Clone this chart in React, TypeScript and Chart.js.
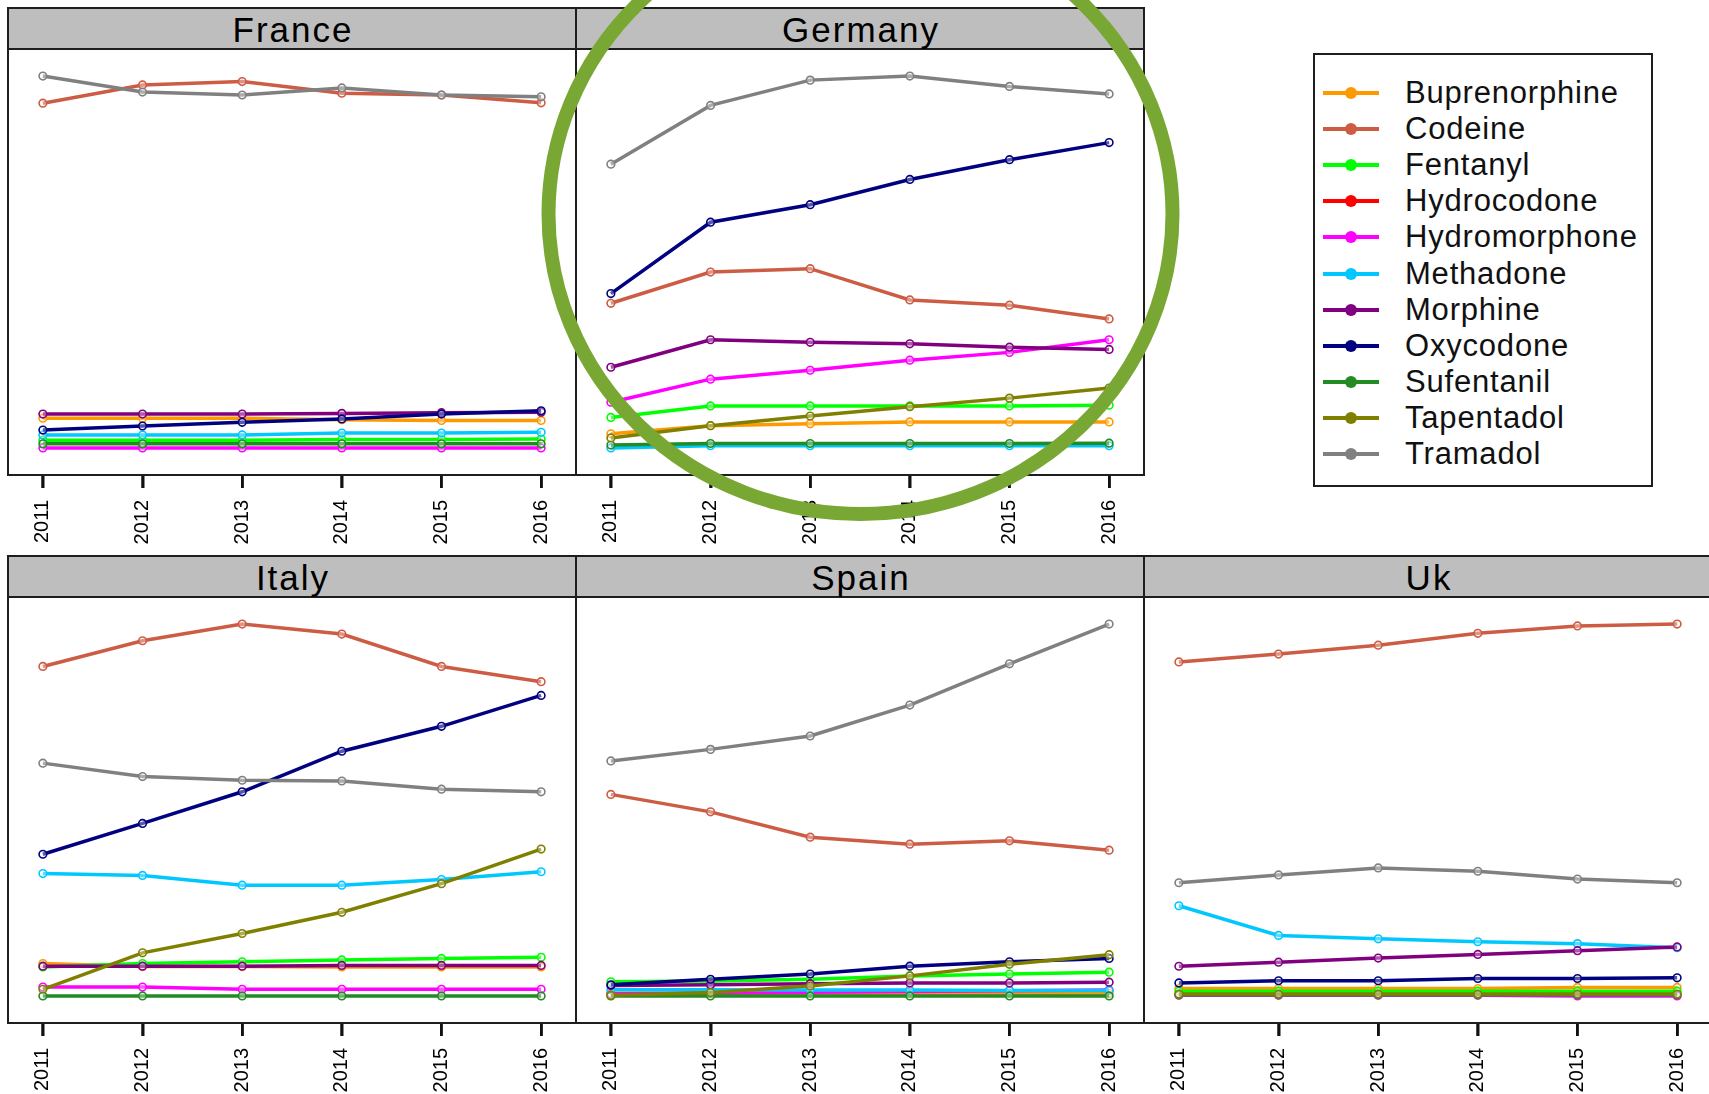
import React, { useEffect, useRef } from "react";
import { Chart, registerables } from "chart.js";

Chart.register(...registerables);

// ---------- data ----------
const years = [2011, 2012, 2013, 2014, 2015, 2016];
const yearTickLabels = ["2011", "2012", "2013", "2014", "2015", "2016"];

const drugs = [
  "Buprenorphine",
  "Codeine",
  "Fentanyl",
  "Hydrocodone",
  "Hydromorphone",
  "Methadone",
  "Morphine",
  "Oxycodone",
  "Sufentanil",
  "Tapentadol",
  "Tramadol",
];

const drugColors = [
  "#FF9900",
  "#CD5C45",
  "#00FF00",
  "#FF0000",
  "#FF00FF",
  "#00C8FF",
  "#800080",
  "#000080",
  "#228B22",
  "#808000",
  "#808080",
];

const countries = ["France", "Germany", "Italy", "Spain", "Uk"];

// relative consumption per panel (free y scale), rows follow `drugs`
const franceValues: (number | null)[][] = [
  [8.0, 8.0, 8.0, 7.6, 7.4, 7.4],
  [92.7, 97.6, 98.5, 95.4, 94.9, 92.8],
  [2.1, 2.1, 2.1, 2.3, 2.3, 2.4],
  [null, null, null, null, null, null],
  [0, 0, 0, 0, 0, 0],
  [3.5, 3.5, 3.5, 4.0, 4.0, 4.2],
  [9.1, 9.1, 9.1, 9.3, 9.5, 9.6],
  [4.8, 5.9, 6.9, 7.8, 9.1, 10.0],
  [1.1, 1.1, 1.1, 1.1, 1.1, 1.1],
  [null, null, null, null, null, null],
  [100, 95.7, 94.9, 96.8, 94.9, 94.4],
];

const germanyValues: (number | null)[][] = [
  [3.8, 6.0, 6.5, 7.0, 7.0, 7.0],
  [38.9, 47.3, 48.2, 39.8, 38.4, 34.7],
  [8.2, 11.3, 11.3, 11.3, 11.3, 11.5],
  [null, null, null, null, null, null],
  [12.3, 18.5, 20.9, 23.6, 25.7, 29.1],
  [0, 0.6, 0.6, 0.6, 0.6, 0.6],
  [21.7, 29.1, 28.4, 28.0, 27.1, 26.5],
  [41.5, 60.7, 65.4, 72.2, 77.5, 82.1],
  [0.8, 1.2, 1.2, 1.2, 1.2, 1.3],
  [2.7, 6.0, 8.6, 11.1, 13.4, 16.1],
  [76.3, 92.1, 98.9, 100, 97.2, 95.2],
];

const italyValues: (number | null)[][] = [
  [8.7, 7.9, 7.9, 7.8, 7.8, 7.8],
  [88.6, 95.5, 100, 97.3, 88.6, 84.5],
  [7.8, 8.7, 9.2, 9.7, 10.1, 10.4],
  [null, null, null, null, null, null],
  [2.4, 2.4, 1.8, 1.8, 1.8, 1.8],
  [32.9, 32.4, 29.8, 29.8, 31.3, 33.4],
  [8.0, 8.0, 8.0, 8.2, 8.2, 8.2],
  [38.1, 46.4, 54.9, 65.8, 72.5, 80.8],
  [0, 0, 0, 0, 0, 0],
  [1.8, 11.6, 16.8, 22.5, 30.2, 39.5],
  [62.6, 59.0, 58.0, 57.8, 55.6, 54.9],
];

const spainValues: (number | null)[][] = [
  [0.7, 0.7, 0.7, 0.7, 0.7, 0.7],
  [54.2, 49.5, 42.7, 40.8, 41.7, 39.2],
  [3.8, 4.0, 4.5, 5.4, 5.9, 6.4],
  [null, null, null, null, null, null],
  [0.6, 0.8, 1.0, 1.2, 1.4, 1.6],
  [1.7, 1.7, 1.6, 1.6, 1.5, 1.5],
  [2.8, 3.0, 3.3, 3.5, 3.5, 3.7],
  [3.0, 4.5, 5.9, 8.0, 9.2, 10.1],
  [0, 0, 0, 0, 0, 0],
  [0.2, 0.9, 2.7, 5.4, 8.5, 11.1],
  [63.2, 66.3, 69.9, 78.2, 89.3, 100],
];

const ukValues: (number | null)[][] = [
  [1.8, 1.8, 1.8, 1.8, 2.1, 2.1],
  [89.8, 91.9, 94.3, 97.5, 99.5, 100],
  [1.1, 1.1, 1.1, 1.1, 1.1, 1.1],
  [null, null, null, null, null, null],
  [0, 0, 0, 0, -0.2, -0.2],
  [24.1, 16.1, 15.2, 14.4, 13.9, 12.8],
  [7.8, 8.9, 10.0, 11.0, 12.0, 13.0],
  [3.3, 3.9, 3.9, 4.5, 4.5, 4.7],
  [0.1, 0.1, 0.1, 0.1, 0.1, 0.1],
  [0.3, 0.3, 0.3, 0.3, 0.3, 0.3],
  [30.3, 32.4, 34.3, 33.4, 31.3, 30.3],
];

const countryValues = [franceValues, germanyValues, italyValues, spainValues, ukValues];

// ---------- layout ----------
const COL_X = [7, 575, 1143];
const PANEL_W = 570;
const ROW_TOP = [7, 555];
const STRIP_H = 43;
const PLOT_H = 424;
const AXIS_H = 80;
const BORDER = "#1e1e1e";
const FONT = '"Liberation Sans", Arial, Helvetica, sans-serif';

const panelPos = [
  { col: 0, row: 0 },
  { col: 1, row: 0 },
  { col: 0, row: 1 },
  { col: 1, row: 1 },
  { col: 2, row: 1 },
];

// tick marks below the panel frame, placed with the x scale
const outerTicks = {
  id: "outerTicks",
  afterDraw(chart: any) {
    const sx = chart.scales.x;
    const { ctx, chartArea } = chart;
    ctx.save();
    ctx.strokeStyle = "#111";
    ctx.lineWidth = 2.5;
    years.forEach((y) => {
      const px = Math.round(sx.getPixelForValue(y)) + 0.25;
      ctx.beginPath();
      ctx.moveTo(px, chartArea.bottom + 1);
      ctx.lineTo(px, chartArea.bottom + 14);
      ctx.stroke();
    });
    ctx.restore();
  },
};

function Panel({ title, values, left, top }: { title: string; values: (number | null)[][]; left: number; top: number }) {
  const ref = useRef<HTMLCanvasElement | null>(null);

  useEffect(() => {
    if (!ref.current) return;
    const all = values.flat().filter((v) => v !== null) as number[];
    const lo = Math.min(...all);
    const hi = Math.max(...all);
    const pad = 0.07 * (hi - lo);

    const chart = new Chart(ref.current, {
      type: "line",
      data: {
        datasets: drugs.map((d, i) => ({
          label: d,
          data: years.map((y, j) => ({ x: y, y: values[i][j] })),
          borderColor: drugColors[i],
          backgroundColor: drugColors[i],
          borderWidth: 3.5,
          pointRadius: 3.8,
          pointBorderWidth: 1.6,
          pointBorderColor: drugColors[i],
          pointBackgroundColor: "rgba(255,255,255,0.35)",
          tension: 0,
          order: drugs.length - 1 - i,
        })),
      },
      options: {
        animation: false,
        responsive: false,
        maintainAspectRatio: false,
        events: [],
        layout: { padding: 0, autoPadding: false },
        plugins: { legend: { display: false }, tooltip: { enabled: false }, title: { display: false } },
        scales: {
          x: {
            type: "linear",
            bounds: "data",
            min: 2010.66,
            max: 2016.34,
            afterBuildTicks: (s: any) => {
              s.ticks = years.map((v) => ({ value: v }));
            },
            afterFit: (s: any) => {
              s.height = AXIS_H;
              s.paddingLeft = 0;
              s.paddingRight = 0;
            },
            border: { display: false },
            grid: {
              drawOnChartArea: false,
              drawTicks: true,
              tickLength: 14,
              tickWidth: 2.5,
              tickColor: "#111",
            },
            ticks: {
              autoSkip: false,
              minRotation: 90,
              maxRotation: 90,
              padding: 12,
              color: "#000",
              font: { family: FONT, size: 20 },
              callback: (v: any) => {
                const k = years.indexOf(Number(v));
                return k >= 0 ? yearTickLabels[k] : "";
              },
            },
          },
          y: {
            display: false,
            bounds: "data",
            min: lo - pad,
            max: hi + pad,
          },
        },
      },
      plugins: [outerTicks],
    } as any);
    return () => chart.destroy();
  }, []);

  return (
    <>
      <canvas
        ref={ref}
        width={PANEL_W - 4}
        height={PLOT_H + AXIS_H}
        style={{ position: "absolute", left: left + 2, top: top + STRIP_H, width: PANEL_W - 4, height: PLOT_H + AXIS_H }}
      />
      <div
        style={{
          position: "absolute",
          left,
          top,
          width: PANEL_W,
          height: STRIP_H,
          boxSizing: "border-box",
          border: `2px solid ${BORDER}`,
          background: "#BEBEBE",
          display: "flex",
          alignItems: "center",
          justifyContent: "center",
          fontFamily: FONT,
          fontSize: 35,
          letterSpacing: 2,
          paddingLeft: 2,
          paddingTop: 2,
          color: "#000",
          lineHeight: 1,
        }}
      >
        {title}
      </div>
      <div
        style={{
          position: "absolute",
          left,
          top,
          width: PANEL_W,
          height: STRIP_H + PLOT_H + 2,
          boxSizing: "border-box",
          border: `2px solid ${BORDER}`,
          pointerEvents: "none",
        }}
      />
    </>
  );
}

function Legend() {
  return (
    <div
      style={{
        position: "absolute",
        left: 1313,
        top: 53,
        width: 340,
        height: 434,
        boxSizing: "border-box",
        border: `2px solid ${BORDER}`,
        background: "#fff",
      }}
    >
      {drugs.map((d, i) => (
        <div
          key={d}
          style={{ position: "absolute", left: 0, top: 20 + 36.1 * i, height: 36, width: 330 }}
        >
          <svg width={60} height={36} style={{ position: "absolute", left: 8, top: 0 }}>
            <line x1={0} y1={18} x2={56} y2={18} stroke={drugColors[i]} strokeWidth={4} />
            <circle cx={28} cy={18} r={6} fill={drugColors[i]} />
          </svg>
          <div
            style={{
              position: "absolute",
              left: 90,
              top: 0,
              height: 36,
              lineHeight: "36px",
              fontFamily: FONT,
              fontSize: 31,
              letterSpacing: 0.8,
              color: "#111",
              whiteSpace: "nowrap",
            }}
          >
            {d}
          </div>
        </div>
      ))}
    </div>
  );
}

export default function App() {
  return (
    <div
      style={{
        position: "fixed",
        left: 0,
        top: 0,
        width: 1709,
        height: 1094,
        overflow: "hidden",
        background: "#fff",
      }}
    >
      {countries.map((c, i) => (
        <Panel
          key={c}
          title={c}
          values={countryValues[i]}
          left={COL_X[panelPos[i].col]}
          top={ROW_TOP[panelPos[i].row]}
        />
      ))}
      <Legend />
      <svg
        width={1709}
        height={1094}
        style={{ position: "absolute", left: 0, top: 0, pointerEvents: "none" }}
      >
        <ellipse cx={860.5} cy={214} rx={312} ry={300} fill="none" stroke="#79A733" strokeWidth={14} />
      </svg>
    </div>
  );
}
